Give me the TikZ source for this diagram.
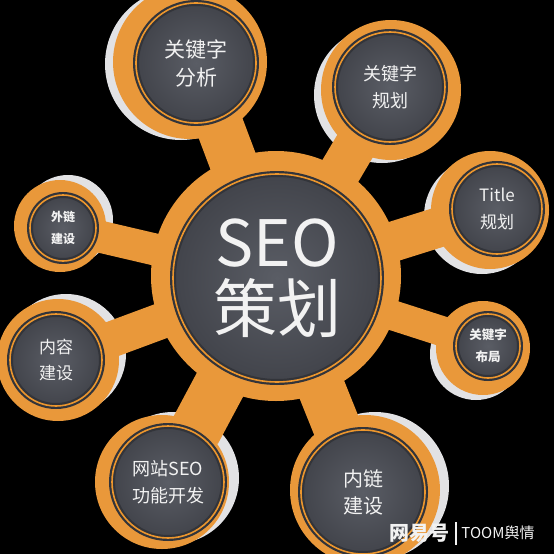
\documentclass[tikz,border=0pt]{standalone}
\usepackage{fontspec}
\newfontfamily\cjk{Noto Sans CJK SC}
\definecolor{seoorange}{RGB}{233, 152, 58}
\definecolor{seoring}{RGB}{236, 150, 45}
\definecolor{seograyin}{RGB}{90, 93, 101}
\definecolor{seograyout}{RGB}{66, 68, 75}
\definecolor{seorim}{RGB}{50, 52, 58}
\definecolor{seoglow}{RGB}{226, 226, 228}
\definecolor{seotext}{RGB}{242, 242, 242}
\usetikzlibrary{positioning}
\pgfdeclarelayer{back}
\pgfdeclarelayer{mid}
\pgfsetlayers{back,mid,main}

\begin{document}
\begin{tikzpicture}[
  x=1pt, y=-1pt,
  hub/.style={circle, inner sep=0pt, inner color=seograyin, outer color=seograyout,
    draw=seorim, line width=2.2pt, double=seoring, double distance=1.6pt,
    align=center, text=seotext},
  disc/.style={fill=seoorange},
  glow/.style={fill=seoglow},
  neck/.style={draw=seoorange, line width=#1}
]
  \useasboundingbox (0,0) rectangle (554,554);

  \begin{pgfonlayer}{back}
    \fill[black] (0,0) rectangle (554,554);
    \fill[glow] (181,64) circle[radius=76];
    \fill[glow] (382,95) circle[radius=68];
    \fill[glow] (482,216) circle[radius=58];
    \fill[glow] (68,220) circle[radius=45];
    \fill[glow] (476,354) circle[radius=46];
    \fill[glow] (66,354) circle[radius=60];
    \fill[glow] (173,478) circle[radius=66];
    \fill[glow] (375,486) circle[radius=74];
  \end{pgfonlayer}

  \begin{pgfonlayer}{mid}
    \fill[disc] (276,276) circle[radius=125];
    \fill[disc] (190,62) circle[radius=77];
    \fill[disc] (391,90) circle[radius=70];
    \fill[disc] (490,210) circle[radius=59];
    \fill[disc] (60,226) circle[radius=46];
    \fill[disc] (483,348) circle[radius=47];
    \fill[disc] (58,360) circle[radius=61];
    \fill[disc] (162,482) circle[radius=67];
    \fill[disc] (365,490) circle[radius=75];
  \end{pgfonlayer}

  \node[hub, minimum size=208pt, font=\cjk\fontsize{64}{66}\selectfont] (seo) at (277,278) {SEO\\策划};

  \node[hub, minimum size=120pt, font=\cjk\fontsize{21}{28}\selectfont] (kwanalysis) at (196,63) {关键字\\分析};
  \node[hub, minimum size=110pt, font=\cjk\fontsize{18}{27}\selectfont] (kwplan) at (390,87) {关键字\\规划};
  \node[hub, minimum size=90pt, font=\cjk\fontsize{17}{27}\selectfont] (titleplan) at (497,209) {Title\\规划};
  \node[hub, minimum size=66pt, font=\cjk\bfseries\fontsize{12}{22}\selectfont] (extlink) at (63,228) {外链\\建设};
  \node[hub, minimum size=64pt, font=\cjk\bfseries\fontsize{12.5}{22}\selectfont] (kwlayout) at (488,346) {关键字\\布局};
  \node[hub, minimum size=92pt, font=\cjk\fontsize{17}{26}\selectfont] (content) at (56,360) {内容\\建设};
  \node[hub, minimum size=112pt, font=\cjk\fontsize{18}{27}\selectfont] (sitedev) at (168,482) {网站SEO\\功能开发};
  \node[hub, minimum size=124pt, font=\cjk\fontsize{20}{27}\selectfont] (intlink) at (363,492) {内链\\建设};

  \begin{pgfonlayer}{mid}
    \draw[neck=48pt] (seo) -- (kwanalysis);
    \draw[neck=42pt] (seo) -- (kwplan);
    \draw[neck=40pt] (seo) -- (titleplan);
    \draw[neck=32pt] (seo) -- (extlink);
    \draw[neck=30pt] (seo) -- (kwlayout);
    \draw[neck=36pt] (seo) -- (content);
    \draw[neck=52pt] (seo) -- (sitedev);
    \draw[neck=48pt] (seo) -- (intlink);
  \end{pgfonlayer}

  \node[text=seotext, font=\cjk\bfseries\fontsize{20}{22}\selectfont] (wm163) at (419,533) {网易号};
  \node[text=seotext, font=\cjk\fontsize{15}{18}\selectfont] (wmtoom) at (498,533) {TOOM舆情};
  \draw[seotext, line width=1.2pt] (456,522) -- (456,545);
\end{tikzpicture}
\end{document}
